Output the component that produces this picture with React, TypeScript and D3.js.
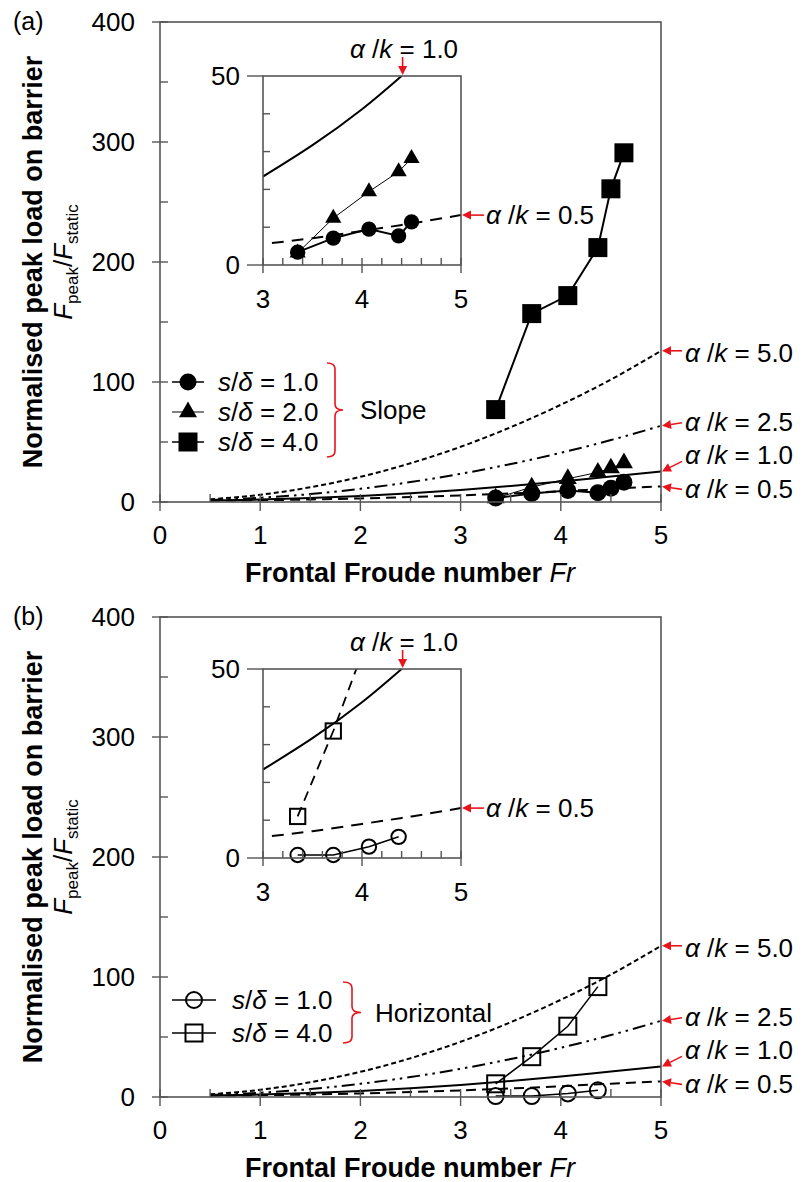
import React from 'react';
import * as d3 from 'd3';

// ---------- data ----------
const frGrid = [0.5, 1, 1.5, 2, 2.5, 3, 3.5, 4, 4.5, 5];
const theory50 = [2.3, 6, 12.3, 21, 32.3, 46, 62.3, 81, 102, 126];
const theory25 = [1.6, 3.5, 6.6, 11, 16.6, 23.5, 31.6, 41, 51.6, 63.5];
const theory10 = [1.3, 2, 3.3, 5, 7.3, 10, 13.3, 17, 21.3, 25.5];
const theory05 = [1.1, 1.5, 2.1, 3, 4.1, 5.5, 7.1, 9, 11.1, 13];
const theoryLabels = ['5.0', '2.5', '1.0', '0.5'];

const slopeFr = [3.35, 3.71, 4.07, 4.37, 4.5, 4.63];
const slopeS1 = [3.4, 7.1, 9.5, 7.7, 11.4, 16.5];
const slopeS2 = [3.2, 12.4, 19.4, 24.7, 28.2, 32.5];
const slopeS4 = [77, 157, 172, 212, 261, 291];

const horizFr = [3.35, 3.71, 4.07, 4.37];
const horizS1 = [0.8, 0.8, 3.0, 5.6];
const horizS4 = [11, 33.6, 59, 92];

const insetK10Fr = [3.0, 3.5, 4.0, 4.4];
const insetK10 = [23.4, 31.7, 41.2, 50];
const insetK05Fr = [3.09, 3.5, 4.0, 4.5, 5.0];
const insetK05 = [5.8, 7.1, 9.0, 11.0, 13.2];

const xTicksMain = [0, 1, 2, 3, 4, 5];
const yTicksMain = [0, 100, 200, 300, 400];
const xTicksInset = [3, 4, 5];
const yTicksInset = [0, 50];

const FONT = '"Liberation Sans", Arial, Helvetica, sans-serif';
const RED = '#e8141b';
const FRAME = '#555';

type Pt = [number, number];
const zip = (a: number[], b: number[]): Pt[] => a.map((v, i) => [v, b[i]]);

function Arrow({ x1, y1, x2, y2 }: { x1: number; y1: number; x2: number; y2: number }) {
  const ang = Math.atan2(y2 - y1, x2 - x1);
  const L = 9, W = 4.5;
  const bx = x2 - L * Math.cos(ang), by = y2 - L * Math.sin(ang);
  const px = -Math.sin(ang) * W, py = Math.cos(ang) * W;
  return (
    <g>
      <line x1={x1} y1={y1} x2={bx} y2={by} stroke={RED} strokeWidth={1.6} />
      <polygon points={`${x2},${y2} ${bx + px},${by + py} ${bx - px},${by - py}`} fill={RED} />
    </g>
  );
}

function AkText({ x, y, v, anchor = 'start' }: { x: number; y: number; v: string; anchor?: string }) {
  return (
    <text x={x} y={y} fontSize={26} fontFamily={FONT} textAnchor={anchor as any}>
      <tspan fontStyle="italic">α</tspan> /<tspan fontStyle="italic">k</tspan> = {v}
    </text>
  );
}

function Marker({ kind, x, y, inset }: { kind: string; x: number; y: number; inset?: boolean }) {
  const s = inset ? 0.9 : 1;
  if (kind === 'circle') return <circle cx={x} cy={y} r={8.5 * s} fill="#000" />;
  if (kind === 'ocircle') return <circle cx={x} cy={y} r={8 * s} fill="none" stroke="#000" strokeWidth={2} />;
  if (kind === 'tri') {
    const p = d3.symbol().type(d3.symbolTriangle).size(140 * s * s)();
    return <path d={p || ''} transform={`translate(${x},${y})`} fill="#000" />;
  }
  if (kind === 'square') {
    const h = 9.5 * s;
    return <rect x={x - h} y={y - h} width={2 * h} height={2 * h} fill="#000" />;
  }
  if (kind === 'osquare') {
    const h = 8.5 * s;
    return <rect x={x - h} y={y - h} width={2 * h} height={2 * h} fill="none" stroke="#000" strokeWidth={2} />;
  }
  return null;
}

function Brace({ x, y0, y1, w }: { x: number; y0: number; y1: number; w: number }) {
  const ym = (y0 + y1) / 2;
  const xm = x + w / 2;
  const r = 6;
  const d = `M${x},${y0} Q${xm},${y0} ${xm},${y0 + r} L${xm},${ym - r} Q${xm},${ym} ${x + w},${ym} Q${xm},${ym} ${xm},${ym + r} L${xm},${y1 - r} Q${xm},${y1} ${x},${y1}`;
  return <path d={d} fill="none" stroke={RED} strokeWidth={1.6} />;
}

type Series = { pts: Pt[]; marker: string; width: number; dash?: string };

function Panel({ dy, idy, label, main, inset, legend, legendText, braceBox }: any) {
  const x = d3.scaleLinear().domain([0, 5]).range([160, 661]);
  const y = d3.scaleLinear().domain([0, 400]).range([502 + dy, 22 + dy]);
  const xi = d3.scaleLinear().domain([3, 5]).range([263, 461]);
  const yi = d3.scaleLinear().domain([0, 50]).range([265 + idy, 76 + idy]);
  const line = d3.line<Pt>().x(d => x(d[0])).y(d => y(d[1]));
  const curve = d3.line<Pt>().x(d => x(d[0])).y(d => y(d[1])).curve(d3.curveMonotoneX);
  const lineI = d3.line<Pt>().x(d => xi(d[0])).y(d => yi(d[1]));
  const curveI = d3.line<Pt>().x(d => xi(d[0])).y(d => yi(d[1])).curve(d3.curveNatural);

  const theories = [theory50, theory25, theory10, theory05];
  const dashes = ['5,3', '13,5,2.5,5,2.5,5', undefined, '10,6'];
  const labLay = [
    { tdy: 2, tly: 0 },
    { tdy: -4, tly: -3 },
    { tdy: -16, tly: -10 },
    { tdy: 3, tly: 3 },
  ];
  const y0 = y(0);
  const clipId = `clipI${label}`;

  const mainYTicks = d3.range(0, 401, 50);
  const mainXTicks = d3.range(0, 5.01, 0.5);
  const insYTicks = d3.range(0, 51, 10);
  const insXTicks = d3.range(3, 5.01, 0.2);

  return (
    <g>
      <text x={13} y={30 + dy} fontSize={25} fontFamily={FONT}>({label})</text>
      {/* y titles */}
      <text transform={`translate(42,${y(200)}) rotate(-90)`} textAnchor="middle" fontSize={27} fontWeight="bold" fontFamily={FONT}>
        Normalised peak load on barrier
      </text>
      <text transform={`translate(72,${y(200)}) rotate(-90)`} textAnchor="middle" fontSize={26} fontFamily={FONT}>
        <tspan fontStyle="italic">F</tspan>
        <tspan fontSize={17} dy={6}>peak</tspan>
        <tspan dy={-6}>/</tspan>
        <tspan fontStyle="italic">F</tspan>
        <tspan fontSize={17} dy={6}>static</tspan>
      </text>
      {/* x title */}
      <text x={410} y={y0 + 80} textAnchor="middle" fontSize={27} fontWeight="bold" fontFamily={FONT}>
        Frontal Froude number <tspan fontStyle="italic" fontWeight="normal">Fr</tspan>
      </text>

      {/* theory curves */}
      {theories.map((t, i) => (
        <path key={i} d={curve(zip(frGrid, t)) || ''} fill="none" stroke="#000" strokeWidth={2} strokeDasharray={dashes[i]} />
      ))}

      {/* main data series */}
      {main.map((s: Series, i: number) => (
        <g key={i}>
          <path d={line(s.pts) || ''} fill="none" stroke="#000" strokeWidth={s.width} strokeDasharray={s.dash} />
          {s.pts.map((p, j) => <Marker key={j} kind={s.marker} x={x(p[0])} y={y(p[1])} />)}
        </g>
      ))}

      {/* main frame & ticks */}
      <rect x={x(0)} y={y(400)} width={x(5) - x(0)} height={y(0) - y(400)} fill="none" stroke={FRAME} strokeWidth={1.6} />
      {mainYTicks.map(v => {
        const major = v % 100 === 0;
        return <line key={v} x1={major ? 152 : 160} x2={168} y1={y(v)} y2={y(v)} stroke={FRAME} strokeWidth={1.4} />;
      })}
      {mainXTicks.map(v => {
        const major = Math.abs(v - Math.round(v)) < 1e-6;
        return <line key={v} x1={x(v)} x2={x(v)} y1={y0 - 8} y2={major ? y0 + 9 : y0} stroke={FRAME} strokeWidth={1.4} />;
      })}
      {yTicksMain.map(v => (
        <text key={v} x={135} y={y(v) + 9} textAnchor="end" fontSize={26} fontFamily={FONT}>{v}</text>
      ))}
      {xTicksMain.map(v => (
        <text key={v} x={x(v)} y={y0 + 42} textAnchor="middle" fontSize={26} fontFamily={FONT}>{v}</text>
      ))}

      {/* right annotations */}
      {theories.map((t, i) => {
        const tipY = y(t[t.length - 1]);
        const L = labLay[i];
        return (
          <g key={i}>
            <Arrow x1={682} y1={tipY + L.tly} x2={x(5) + 1} y2={tipY} />
            <AkText x={685} y={tipY + L.tdy + 9} v={theoryLabels[i]} />
          </g>
        );
      })}

      {/* inset */}
      <defs>
        <clipPath id={clipId}>
          <rect x={xi(3)} y={yi(50)} width={xi(5) - xi(3)} height={yi(0) - yi(50)} />
        </clipPath>
      </defs>
      <rect x={xi(3)} y={yi(50)} width={xi(5) - xi(3)} height={yi(0) - yi(50)} fill="#fff" />
      <g clipPath={`url(#${clipId})`}>
        <path d={curveI(zip(insetK10Fr, insetK10)) || ''} fill="none" stroke="#000" strokeWidth={2} />
        <path d={curveI(zip(insetK05Fr, insetK05)) || ''} fill="none" stroke="#000" strokeWidth={2} strokeDasharray="12,8" />
        {inset.map((s: Series, i: number) => (
          <path key={i} d={lineI(s.pts) || ''} fill="none" stroke="#000" strokeWidth={s.width} strokeDasharray={s.dash} />
        ))}
      </g>
      {inset.map((s: Series, i: number) => (
        <g key={i}>
          {s.pts.filter(p => p[1] <= 50).map((p, j) => <Marker key={j} kind={s.marker} x={xi(p[0])} y={yi(p[1])} inset />)}
        </g>
      ))}
      <rect x={xi(3)} y={yi(50)} width={xi(5) - xi(3)} height={yi(0) - yi(50)} fill="none" stroke={FRAME} strokeWidth={1.6} />
      {insYTicks.map(v => {
        const major = v % 50 === 0;
        return <line key={v} x1={major ? xi(3) - 16 : xi(3)} x2={major ? xi(3) : xi(3) + 7} y1={yi(v)} y2={yi(v)} stroke={FRAME} strokeWidth={1.4} />;
      })}
      {insXTicks.map(v => {
        const major = Math.abs(v - Math.round(v)) < 1e-6;
        return <line key={v} x1={xi(v)} x2={xi(v)} y1={yi(0) - 7} y2={major ? yi(0) + 8 : yi(0)} stroke={FRAME} strokeWidth={1.4} />;
      })}
      {yTicksInset.map(v => (
        <text key={v} x={240} y={yi(v) + 9} textAnchor="end" fontSize={26} fontFamily={FONT}>{v}</text>
      ))}
      {xTicksInset.map(v => (
        <text key={v} x={xi(v)} y={yi(0) + 43} textAnchor="middle" fontSize={26} fontFamily={FONT}>{v}</text>
      ))}
      {/* inset annotations */}
      <AkText x={350} y={yi(50) - 27 + 9} v="1.0" />
      <Arrow x1={xi(4.4) + 1} y1={yi(50) - 19} x2={xi(4.4) + 1} y2={yi(50) - 1} />
      <Arrow x1={484} y1={yi(insetK05[insetK05.length - 1])} x2={xi(5) + 1} y2={yi(insetK05[insetK05.length - 1])} />
      <AkText x={486} y={yi(insetK05[insetK05.length - 1]) + 9} v="0.5" />

      {/* legend */}
      {legend.map((l: any, i: number) => (
        <g key={i}>
          <line x1={l.x0} x2={l.x1} y1={l.y + dy} y2={l.y + dy} stroke="#000" strokeWidth={l.width} />
          <Marker kind={l.marker} x={(l.x0 + l.x1) / 2} y={l.y + dy} />
          <text x={l.tx} y={l.y + dy + 9} fontSize={26} fontFamily={FONT}>
            <tspan fontStyle="italic">s</tspan>/<tspan fontStyle="italic">δ</tspan> = {l.v}
          </text>
        </g>
      ))}
      <Brace x={braceBox.x} y0={braceBox.y0 + dy} y1={braceBox.y1 + dy} w={braceBox.w} />
      <text x={braceBox.tx} y={(braceBox.y0 + braceBox.y1) / 2 + dy + 9} fontSize={26} fontFamily={FONT}>{legendText}</text>
    </g>
  );
}

export default function App() {
  const mainA: Series[] = [
    { pts: zip(slopeFr, slopeS2), marker: 'tri', width: 1 },
    { pts: zip(slopeFr, slopeS1), marker: 'circle', width: 2 },
    { pts: zip(slopeFr, slopeS4), marker: 'square', width: 2 },
  ];
  const insetA: Series[] = [
    { pts: zip(slopeFr, slopeS2).slice(0, 5), marker: 'tri', width: 1 },
    { pts: zip(slopeFr, slopeS1).slice(0, 5), marker: 'circle', width: 2 },
  ];
  const mainB: Series[] = [
    { pts: zip(horizFr, horizS1), marker: 'ocircle', width: 1.5 },
    { pts: zip(horizFr, horizS4), marker: 'osquare', width: 1.5 },
  ];
  const insetB: Series[] = [
    { pts: zip(horizFr, horizS1), marker: 'ocircle', width: 1.5 },
    { pts: zip(horizFr, horizS4), marker: 'osquare', width: 1.8, dash: '10,7' },
  ];
  const legendA = [
    { v: '1.0', marker: 'circle', width: 1.5, x0: 172, x1: 204, tx: 218, y: 382 },
    { v: '2.0', marker: 'tri', width: 1, x0: 172, x1: 204, tx: 218, y: 412 },
    { v: '4.0', marker: 'square', width: 1.5, x0: 172, x1: 204, tx: 218, y: 442 },
  ];
  const legendB = [
    { v: '1.0', marker: 'ocircle', width: 1.5, x0: 172, x1: 216, tx: 232, y: 405 },
    { v: '4.0', marker: 'osquare', width: 1.5, x0: 172, x1: 216, tx: 232, y: 438 },
  ];
  return (
    <svg width={804} height={1182} style={{ position: 'absolute', left: 0, top: 0, background: '#fff' }}>
      <rect width={804} height={1182} fill="#fff" />
      <Panel dy={0} idy={0} label="a" main={mainA} inset={insetA} legend={legendA} legendText="Slope"
        braceBox={{ x: 327, y0: 363, y1: 457, w: 16, tx: 360 }} />
      <Panel dy={595} idy={593} label="b" main={mainB} inset={insetB} legend={legendB} legendText="Horizontal"
        braceBox={{ x: 343, y0: 387, y1: 448, w: 18, tx: 375 }} />
    </svg>
  );
}
